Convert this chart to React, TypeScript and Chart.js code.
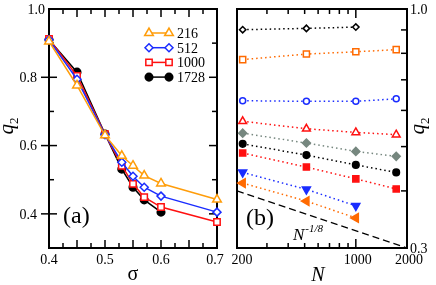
import React, { useEffect, useRef } from "react";
import { Chart, registerables } from "chart.js";
Chart.register(...registerables);

const SERIF = '"Liberation Serif", "Times New Roman", serif';

// ---------- Panel (a): q2 vs sigma ----------
const sigmaValues = [0.4, 0.45, 0.5, 0.53, 0.55, 0.57, 0.6, 0.7];
const q2N216 = [0.905, 0.776, 0.63, 0.57, 0.541, 0.512, 0.489, 0.442];
const q2N512 = [0.91, 0.794, 0.632, 0.551, 0.51, 0.478, 0.452, 0.405];
const q2N1000 = [0.912, 0.804, 0.633, 0.541, 0.488, 0.449, 0.42, 0.376];
const q2N1728 = [0.91, 0.815, 0.634, 0.531, 0.478, 0.441, 0.405];
const legendLabelsA = ["216", "512", "1000", "1728"];

const aXLabelTicks = [0.4, 0.5, 0.6, 0.7];
const aXMajorTicks = [0.45, 0.5, 0.55, 0.6, 0.65];
const aXMinorTicks = [0.425, 0.475, 0.525, 0.575, 0.625, 0.675];
const aYLabelTicks = [0.4, 0.6, 0.8, 1.0];
const aYMinorTicks = [0.5, 0.7, 0.9];

// ---------- Panel (b): q2 vs N (log-log) ----------
const systemSizes = [216, 512, 1000, 1728];
const bOpenDiamondBlack = [0.901, 0.907, 0.913];
const bOpenSquareOrange = [0.775, 0.797, 0.806, 0.815];
const bOpenCircleBlue = [0.63, 0.628, 0.628, 0.636];
const bOpenTriangleRed = [0.568, 0.547, 0.537, 0.531];
const bFilledDiamondGray = [0.535, 0.509, 0.488, 0.476];
const bFilledCircleBlack = [0.507, 0.479, 0.456, 0.439];
const bFilledSquareRed = [0.484, 0.451, 0.425, 0.404];
const bFilledDownBlue = [0.439, 0.403, 0.371];
const bFilledLeftOrange = [0.416, 0.38, 0.349];
const powerLawN = [200, 2000];
const powerLawQ = [0.4, 0.3];

const bXLabelTicks = [200, 1000, 2000];
const bXMinorTicks = [300, 400, 500, 600, 700, 800, 900];
const bXMajorTicks = [1000];
const bYTicks = [0.4, 0.5, 0.6, 0.7, 0.8, 0.9];
const bYLabelTicks = [0.3, 1.0];

const ORANGE_A = "#ff9d0a";
const ORANGE_B = "#ff6a00";
const BLUE = "#1a2cff";
const RED = "#ff1010";
const GRAY = "#76877f";

const pts = (xs: number[], ys: number[]) => ys.map((y, i) => ({ x: xs[i], y }));

function drawMarker(
  ctx: CanvasRenderingContext2D,
  style: string,
  x: number,
  y: number,
  r: number,
  stroke: string,
  fill: string,
  lw: number
) {
  ctx.beginPath();
  if (style === "triangle") {
    let a = 0;
    for (let i = 0; i < 3; i++) {
      const px = x + Math.sin(a) * r;
      const py = y - Math.cos(a) * r;
      if (i === 0) ctx.moveTo(px, py);
      else ctx.lineTo(px, py);
      a += (2 * Math.PI) / 3;
    }
    ctx.closePath();
  } else if (style === "rect") {
    const h = Math.SQRT1_2 * r;
    ctx.rect(x - h, y - h, 2 * h, 2 * h);
  } else if (style === "rectRot") {
    ctx.moveTo(x - r, y);
    ctx.lineTo(x, y - r);
    ctx.lineTo(x + r, y);
    ctx.lineTo(x, y + r);
    ctx.closePath();
  } else {
    ctx.arc(x, y, r, 0, Math.PI * 2);
  }
  ctx.fillStyle = fill;
  ctx.fill();
  ctx.lineWidth = lw;
  ctx.strokeStyle = stroke;
  ctx.stroke();
}

function drawQ2(ctx: CanvasRenderingContext2D, baseX: number, centerY: number) {
  ctx.save();
  ctx.translate(baseX, centerY);
  ctx.rotate(-Math.PI / 2);
  ctx.fillStyle = "#000";
  ctx.textBaseline = "alphabetic";
  ctx.textAlign = "left";
  ctx.font = `italic 21px ${SERIF}`;
  const wq = ctx.measureText("q").width;
  ctx.font = `13px ${SERIF}`;
  const w2 = ctx.measureText("2").width;
  const start = -(wq + w2) / 2;
  ctx.font = `italic 21px ${SERIF}`;
  ctx.fillText("q", start, 0);
  ctx.font = `13px ${SERIF}`;
  ctx.fillText("2", start + wq, 5);
  ctx.restore();
}

function line(ctx: CanvasRenderingContext2D, x1: number, y1: number, x2: number, y2: number) {
  ctx.beginPath();
  ctx.moveTo(x1, y1);
  ctx.lineTo(x2, y2);
  ctx.stroke();
}

const axesPluginA = {
  id: "axesA",
  beforeDatasetsDraw(chart: any) {
    const { ctx, chartArea: ca, scales } = chart;
    const x = scales.x;
    const y = scales.y;
    ctx.save();
    ctx.strokeStyle = "#000";
    ctx.lineWidth = 1.5;
    aXMajorTicks.forEach((v) => {
      const p = x.getPixelForValue(v);
      line(ctx, p, ca.bottom, p, ca.bottom - 8);
      line(ctx, p, ca.top, p, ca.top + 8);
    });
    aXMinorTicks.forEach((v) => {
      const p = x.getPixelForValue(v);
      line(ctx, p, ca.bottom, p, ca.bottom - 5);
      line(ctx, p, ca.top, p, ca.top + 5);
    });
    aYLabelTicks.forEach((v) => {
      if (v >= 1.0) return;
      const p = y.getPixelForValue(v);
      line(ctx, ca.left - 8, p, ca.left + 8, p);
      line(ctx, ca.right - 8, p, ca.right, p);
    });
    aYMinorTicks.forEach((v) => {
      const p = y.getPixelForValue(v);
      line(ctx, ca.left, p, ca.left + 5, p);
      line(ctx, ca.right - 5, p, ca.right, p);
    });
    ctx.lineWidth = 2;
    ctx.strokeRect(ca.left, ca.top, ca.right - ca.left, ca.bottom - ca.top);

    ctx.fillStyle = "#000";
    ctx.font = `14px ${SERIF}`;
    ctx.textBaseline = "alphabetic";
    ctx.textAlign = "center";
    aXLabelTicks.forEach((v) => {
      const shift = v >= 0.7 ? -2 : 0;
      ctx.fillText(v.toFixed(1), x.getPixelForValue(v) + shift, 264);
    });
    ctx.textAlign = "right";
    aYLabelTicks.forEach((v) => {
      const off = v >= 1.0 ? 4 : 12;
      ctx.fillText(v.toFixed(1), ca.left - off, y.getPixelForValue(v) + 4.8);
    });

    ctx.textAlign = "center";
    ctx.font = `20px ${SERIF}`;
    ctx.fillText("σ", (ca.left + ca.right) / 2, 280);
    drawQ2(ctx, 13, 126);

    ctx.textAlign = "left";
    ctx.font = `24px ${SERIF}`;
    ctx.fillText("(a)", 63, 223);

    // legend
    const styles = ["triangle", "rectRot", "rect", "circle"];
    const colors = [ORANGE_A, BLUE, RED, "#000"];
    const fills = ["#fff", "#fff", "#fff", "#000"];
    const radii = [5, 4, 4.5, 3.8];
    ctx.font = `14px ${SERIF}`;
    legendLabelsA.forEach((lab, i) => {
      const yy = 33 + i * 14.7;
      ctx.strokeStyle = colors[i];
      ctx.lineWidth = 1.5;
      line(ctx, 149, yy, 169, yy);
      drawMarker(ctx, styles[i], 149, yy, radii[i], colors[i], fills[i], 1.5);
      drawMarker(ctx, styles[i], 169, yy, radii[i], colors[i], fills[i], 1.5);
      ctx.fillStyle = "#000";
      ctx.fillText(lab, 177, yy + 5);
    });
    ctx.restore();
  },
};

const axesPluginB = {
  id: "axesB",
  beforeDatasetsDraw(chart: any) {
    const { ctx, chartArea: ca, scales } = chart;
    const x = scales.x;
    const y = scales.y;
    ctx.save();
    ctx.strokeStyle = "#000";
    ctx.lineWidth = 1.5;
    bXMinorTicks.forEach((v) => {
      const p = x.getPixelForValue(v);
      line(ctx, p, ca.bottom, p, ca.bottom - 5);
      line(ctx, p, ca.top, p, ca.top + 5);
    });
    bXMajorTicks.forEach((v) => {
      const p = x.getPixelForValue(v);
      line(ctx, p, ca.bottom, p, ca.bottom - 9);
      line(ctx, p, ca.top, p, ca.top + 9);
    });
    bYTicks.forEach((v) => {
      const p = y.getPixelForValue(v);
      line(ctx, ca.right - 6, p, ca.right, p);
    });
    ctx.lineWidth = 2;
    ctx.strokeRect(ca.left, ca.top, ca.right - ca.left, ca.bottom - ca.top);

    ctx.fillStyle = "#000";
    ctx.font = `14px ${SERIF}`;
    ctx.textBaseline = "alphabetic";
    ctx.textAlign = "center";
    bXLabelTicks.forEach((v) => {
      const shift = v <= 200 ? 5 : 2;
      ctx.fillText(String(v), x.getPixelForValue(v) + shift, 264);
    });
    ctx.textAlign = "left";
    bYLabelTicks.forEach((v) => {
      ctx.fillText(v.toFixed(1), ca.right + 3, y.getPixelForValue(v) + 4.8);
    });

    ctx.textAlign = "center";
    ctx.font = `italic 20px ${SERIF}`;
    ctx.fillText("N", (ca.left + ca.right) / 2 - 4, 281);
    drawQ2(ctx, 200, 126);

    ctx.textAlign = "left";
    ctx.font = `24px ${SERIF}`;
    ctx.fillText("(b)", 22, 225);

    ctx.font = `italic 17px ${SERIF}`;
    ctx.fillText("N", 69, 240);
    const wN = ctx.measureText("N").width;
    ctx.font = `italic 11px ${SERIF}`;
    ctx.fillText("-1/8", 69 + wN + 1, 232);
    ctx.restore();
  },
};

function seriesB(
  label: string,
  ys: number[],
  color: string,
  style: string,
  radius: number,
  open: boolean,
  rotation = 0
) {
  return {
    label,
    data: pts(systemSizes, ys),
    borderColor: color,
    backgroundColor: color,
    borderWidth: 1.5,
    borderDash: [1.5, 3],
    pointStyle: style,
    pointRadius: radius,
    pointRotation: rotation,
    pointBorderColor: color,
    pointBackgroundColor: open ? "#fff" : color,
    pointBorderWidth: 1.5,
    tension: 0,
    clip: false as any,
  };
}

function seriesA(label: string, ys: number[], color: string, style: string, radius: number, open: boolean) {
  return {
    label,
    data: pts(sigmaValues, ys),
    borderColor: color,
    backgroundColor: color,
    borderWidth: 1.5,
    pointStyle: style,
    pointRadius: radius,
    pointBorderColor: color,
    pointBackgroundColor: open ? "#fff" : color,
    pointBorderWidth: 1.5,
    tension: 0,
    clip: false as any,
  };
}

export default function App() {
  const refA = useRef<HTMLCanvasElement>(null);
  const refB = useRef<HTMLCanvasElement>(null);

  useEffect(() => {
    const common = {
      responsive: false,
      maintainAspectRatio: false,
      animation: false as const,
      devicePixelRatio: 1,
      events: [] as any[],
    };
    const chartA = new Chart(refA.current as HTMLCanvasElement, {
      type: "line",
      data: {
        datasets: [
          seriesA("216", q2N216, ORANGE_A, "triangle", 5, true),
          seriesA("512", q2N512, BLUE, "rectRot", 4, true),
          seriesA("1000", q2N1000, RED, "rect", 4.5, true),
          seriesA("1728", q2N1728, "#000", "circle", 3.8, false),
        ],
      },
      options: {
        ...common,
        layout: { padding: { left: 49, right: 11, top: 9, bottom: 37 } },
        scales: {
          x: { type: "linear", min: 0.4, max: 0.7, display: false },
          y: { type: "linear", min: 0.3, max: 1.0, display: false },
        },
        plugins: { legend: { display: false }, tooltip: { enabled: false }, title: { display: false } },
      },
      plugins: [axesPluginA],
    } as any);

    const chartB = new Chart(refB.current as HTMLCanvasElement, {
      type: "line",
      data: {
        datasets: [
          {
            label: "N^-1/8",
            data: pts(powerLawN, powerLawQ),
            borderColor: "#000",
            borderWidth: 1.2,
            borderDash: [7, 4],
            pointRadius: 0,
            tension: 0,
            clip: false,
          },
          seriesB("a", bOpenDiamondBlack, "#000", "rectRot", 3.2, true),
          seriesB("b", bOpenSquareOrange, ORANGE_B, "rect", 4.3, true),
          seriesB("c", bOpenCircleBlue, BLUE, "circle", 3, true),
          seriesB("d", bOpenTriangleRed, RED, "triangle", 4.5, true),
          seriesB("e", bFilledDiamondGray, GRAY, "rectRot", 4, false),
          seriesB("f", bFilledCircleBlack, "#000", "circle", 3.3, false),
          seriesB("g", bFilledSquareRed, RED, "rect", 4.3, false),
          seriesB("h", bFilledDownBlue, BLUE, "triangle", 4.6, false, 180),
          seriesB("i", bFilledLeftOrange, ORANGE_B, "triangle", 5, false, 270),
        ],
      },
      options: {
        ...common,
        layout: { padding: { left: 13, right: 29, top: 9, bottom: 37 } },
        scales: {
          x: { type: "logarithmic", min: 200, max: 2000, display: false },
          y: { type: "logarithmic", min: 0.3, max: 1.0, display: false },
        },
        plugins: { legend: { display: false }, tooltip: { enabled: false }, title: { display: false } },
      },
      plugins: [axesPluginB],
    } as any);

    return () => {
      chartA.destroy();
      chartB.destroy();
    };
  }, []);

  return (
    <div style={{ position: "fixed", left: 0, top: 0, width: 436, height: 285, background: "#fff" }}>
      <canvas
        ref={refA}
        width={228}
        height={285}
        style={{ position: "absolute", left: 0, top: 0, width: 228, height: 285 }}
      />
      <canvas
        ref={refB}
        width={212}
        height={285}
        style={{ position: "absolute", left: 224, top: 0, width: 212, height: 285 }}
      />
    </div>
  );
}
